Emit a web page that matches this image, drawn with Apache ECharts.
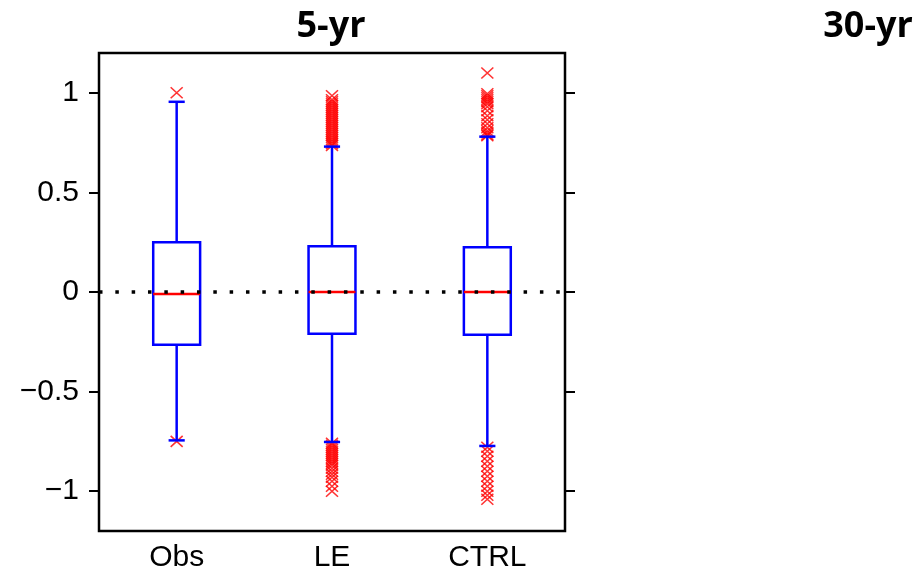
<!DOCTYPE html>
<html><head><meta charset="utf-8">
<script src="https://cdn.jsdelivr.net/npm/echarts@6/dist/echarts.min.js"></script>
<style>html,body{margin:0;padding:0;background:#fff}#c{width:922px;height:573px}</style>
</head><body><div id="c"></div>
<script>
const categories = ['Obs', 'LE', 'CTRL'];
// [lower whisker, Q1, median, Q3, upper whisker]
const obsBox = [-0.745, -0.265, -0.01, 0.25, 0.955];
const leBox = [-0.753, -0.21, 0.0, 0.23, 0.73];
const ctrlBox = [-0.773, -0.215, 0.0, 0.225, 0.78];
const obsOutliers = [1.0, -0.75];
const leOutliers = [0.985, 0.965, 0.955, 0.945, 0.935, 0.925, 0.915, 0.905, 0.895, 0.885, 0.875, 0.865, 0.855, 0.845, 0.835, 0.825, 0.815, 0.805, 0.795, 0.785, 0.775, 0.765, 0.755, 0.745, 0.735,
  -0.76, -0.77, -0.78, -0.79, -0.80, -0.81, -0.82, -0.83, -0.84, -0.85, -0.86, -0.87, -0.885, -0.90, -0.915, -0.93, -0.95, -0.975, -1.0];
const ctrlOutliers = [1.1, 0.995, 0.985, 0.975, 0.965, 0.955, 0.945, 0.93, 0.91, 0.885, 0.865, 0.845, 0.825, 0.81, 0.80, 0.79, 0.785,
  -0.78, -0.80, -0.825, -0.85, -0.875, -0.90, -0.925, -0.95, -0.975, -1.0, -1.02, -1.04];
const yTicks = [-1, -0.5, 0, 0.5, 1];
const panelTitles = ['5-yr', '30-yr'];

const boxData = [obsBox, leBox, ctrlBox].map((b, i) => [i].concat(b));
const outlierData = [];
[obsOutliers, leOutliers, ctrlOutliers].forEach((arr, i) => arr.forEach(v => outlierData.push([i, v])));

const chart = echarts.init(document.getElementById('c'), null, {renderer: 'canvas'});
const labelFont = {fontFamily: '"Liberation Sans", Arial, sans-serif', fontSize: 30, color: '#000'};
const fmt = v => (v < 0 ? '\u2212' : '') + Math.abs(v);
function yAx(pos, showLabel) {
  return {
    type: 'value', position: pos, min: -1.2, max: 1.2,
    axisLine: {show: false}, splitLine: {show: false},
    axisTick: {show: true, inside: false, length: 10, lineStyle: {color: '#000', width: 2}, customValues: yTicks},
    axisLabel: Object.assign({show: showLabel, margin: 20, formatter: fmt, customValues: yTicks}, labelFont)
  };
}
const titleStyle = t => ({text: t, fontFamily: '"Open Sans", sans-serif', fontWeight: 'bold', fontSize: 36, fill: '#000',
  textAlign: 'center', textVerticalAlign: 'middle', align: 'center', verticalAlign: 'middle'});

chart.setOption({
  animation: false,
  backgroundColor: '#fff',
  graphic: [
    {type: 'text', x: 331, y: 27, style: titleStyle(panelTitles[0])},
    {type: 'text', x: 868, y: 27, style: titleStyle(panelTitles[1])}
  ],
  grid: {left: 99, right: 357, top: 53, bottom: 42, show: true, borderColor: '#000', borderWidth: 2.5, backgroundColor: 'transparent'},
  xAxis: {
    type: 'category', data: categories, boundaryGap: true,
    axisLine: {show: false}, axisTick: {show: false}, splitLine: {show: false},
    axisLabel: Object.assign({margin: 12}, labelFont)
  },
  yAxis: [yAx('left', true), yAx('right', false)],
  series: [
    {
      type: 'scatter', data: outlierData, z: 2, silent: true,
      symbol: 'path://M0,0L1,1M1,0L0,1', symbolSize: [12, 11],
      itemStyle: {color: 'none', borderColor: '#ff0000', borderWidth: 1.5},
      markLine: {
        silent: true, symbol: ['none', 'none'], label: {show: false},
        lineStyle: {color: '#000', width: 3.5, type: [3.5, 12.83], cap: 'butt'},
        data: [{yAxis: 0}]
      }
    },
    {
      type: 'custom', data: boxData, z: 3, silent: true,
      encode: {x: 0, y: [1, 2, 3, 4, 5]},
      renderItem: function (params, api) {
        const x = api.value(0);
        const band = api.size([1, 0])[0];
        const hw = band * 0.151, cw = band * 0.052;
        const pLo = api.coord([x, api.value(1)]), pQ1 = api.coord([x, api.value(2)]),
          pMed = api.coord([x, api.value(3)]), pQ3 = api.coord([x, api.value(4)]), pHi = api.coord([x, api.value(5)]);
        const cx = pLo[0];
        const blue = {stroke: '#0000ff', lineWidth: 2.5, fill: null};
        return {type: 'group', children: [
          {type: 'line', shape: {x1: cx, y1: pHi[1], x2: cx, y2: pQ3[1]}, style: blue},
          {type: 'line', shape: {x1: cx, y1: pQ1[1], x2: cx, y2: pLo[1]}, style: blue},
          {type: 'line', shape: {x1: cx - cw, y1: pHi[1], x2: cx + cw, y2: pHi[1]}, style: blue},
          {type: 'line', shape: {x1: cx - cw, y1: pLo[1], x2: cx + cw, y2: pLo[1]}, style: blue},
          {type: 'rect', shape: {x: cx - hw, y: pQ3[1], width: 2 * hw, height: pQ1[1] - pQ3[1]}, style: {stroke: '#0000ff', lineWidth: 2.5, fill: 'none'}},
          {type: 'line', shape: {x1: cx - hw, y1: pMed[1], x2: cx + hw, y2: pMed[1]}, style: {stroke: '#ff0000', lineWidth: 2.5}}
        ]};
      }
    }
  ]
});
</script></body></html>
